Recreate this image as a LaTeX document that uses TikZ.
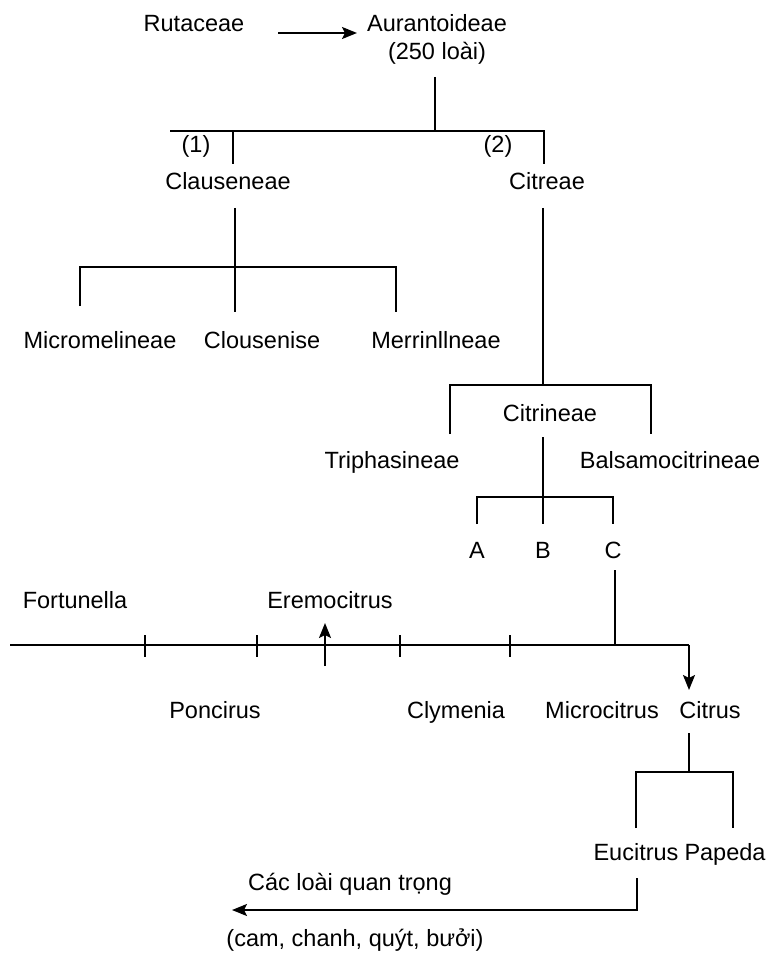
\documentclass[tikz,border=0pt]{standalone}
\usepackage{fontspec}
\setmainfont{Liberation Sans}
\usetikzlibrary{arrows.meta}
\begin{document}
\begin{tikzpicture}[x=1pt,y=-1pt,
  lbl/.style={anchor=base,inner sep=0pt,font=\fontsize{23.5}{28}\selectfont},
  ln/.style={line width=2pt},
  arr/.style={line width=2pt,-{Stealth[length=15pt,width=12pt,inset=3pt]}}]
\useasboundingbox (0,0) rectangle (771,957);
% top
\node[lbl] (rut) at (194,32) {Rutaceae};
\node[lbl] (aur) at (437,32) {Aurantoideae};
\node[lbl] (aur2) at (437,60) {(250 loài)};
\coordinate (arA) at (278,33);
\coordinate (arB) at (357,33);
\draw[arr] (arA) -- (arB);
\coordinate (a0) at (435,77);
\coordinate (a1) at (435,131);
\coordinate (hL) at (170,131);
\coordinate (hR) at (545,131);
\draw[ln] (a0) -- (a1);
\draw[ln] (hL) -- (hR);
\coordinate (c1t) at (233,131);
\coordinate (c1b) at (233,164);
\coordinate (c2t) at (544,131);
\coordinate (c2b) at (544,164);
\draw[ln] (c1t) -- (c1b);
\draw[ln] (c2t) -- (c2b);
\node[lbl] (n1) at (196,153) {(1)};
\node[lbl] (n2) at (498,153) {(2)};
\node[lbl] (claus) at (228,190) {Clauseneae};
\node[lbl] (citreae) at (547,190) {Citreae};
% Clauseneae subtree
\coordinate (k0) at (235,208);
\coordinate (k1) at (235,312);
\coordinate (kL) at (80,267);
\coordinate (kR) at (396,267);
\coordinate (kLb) at (80,306);
\coordinate (kRb) at (396,312);
\draw[ln] (k0) -- (k1);
\draw[ln] (kLb) -- (kL) -- (kR) -- (kRb);
\node[lbl] (micro) at (100,348) {Micromelineae};
\node[lbl] (clous) at (262,348) {Clousenise};
\node[lbl] (merr) at (436,348) {Merrinllneae};
% Citreae subtree
\coordinate (t0) at (543,208);
\coordinate (t1) at (543,385);
\coordinate (tL) at (450,385);
\coordinate (tR) at (651,385);
\coordinate (tLb) at (450,434);
\coordinate (tRb) at (651,434);
\draw[ln] (t0) -- (t1);
\draw[ln] (tLb) -- (tL) -- (tR) -- (tRb);
\node[lbl] (citrin) at (550,421) {Citrineae};
\node[lbl] (triph) at (392,468) {Triphasineae};
\node[lbl] (balsa) at (670,468) {Balsamocitrineae};
\coordinate (b0) at (543,437);
\coordinate (b1) at (543,524);
\coordinate (bL) at (477,497);
\coordinate (bR) at (613,497);
\coordinate (bLb) at (477,524);
\coordinate (bRb) at (613,524);
\draw[ln] (b0) -- (b1);
\draw[ln] (bLb) -- (bL) -- (bR) -- (bRb);
\node[lbl] (A) at (477,558) {A};
\node[lbl] (B) at (543,558) {B};
\node[lbl] (C) at (613,558) {C};
% genus line
\coordinate (g0) at (615,570);
\coordinate (g1) at (615,645);
\coordinate (mL) at (10,645);
\coordinate (mR) at (689,645);
\coordinate (mD) at (689,690);
\draw[ln] (g0) -- (g1);
\draw[ln] (mL) -- (mR);
\draw[arr] (mR) -- (mD);
\foreach \i/\x in {1/145,2/257,3/400,4/510}{
  \coordinate (tk\i a) at (\x,635);
  \coordinate (tk\i b) at (\x,657);
  \draw[ln] (tk\i a) -- (tk\i b);
}
\coordinate (e0) at (325,666);
\coordinate (e1) at (325,623);
\draw[arr] (e0) -- (e1);
\node[lbl] (fort) at (75,608) {Fortunella};
\node[lbl] (erem) at (330,608) {Eremocitrus};
\node[lbl] (ponc) at (215,718) {Poncirus};
\node[lbl] (clym) at (456,718) {Clymenia};
\node[lbl] (mcit) at (602,718) {Microcitrus};
\node[lbl] (citrus) at (710,718) {Citrus};
% Citrus subtree
\coordinate (s0) at (689,733);
\coordinate (s1) at (689,772);
\coordinate (sL) at (636,772);
\coordinate (sR) at (733,772);
\coordinate (sLb) at (636,828);
\coordinate (sRb) at (733,828);
\draw[ln] (s0) -- (s1);
\draw[ln] (sLb) -- (sL) -- (sR) -- (sRb);
\node[lbl] (euc) at (636,860) {Eucitrus};
\node[lbl] (pap) at (725,860) {Papeda};
\coordinate (u0) at (637,878);
\coordinate (u1) at (637,910);
\coordinate (u2) at (232,910);
\draw[arr] (u0) -- (u1) -- (u2);
\node[lbl] (cac) at (350,890) {Các loài quan trọng};
\node[lbl] (cam) at (355,946) {(cam, chanh, quýt, bưởi)};
\end{tikzpicture}
\end{document}
